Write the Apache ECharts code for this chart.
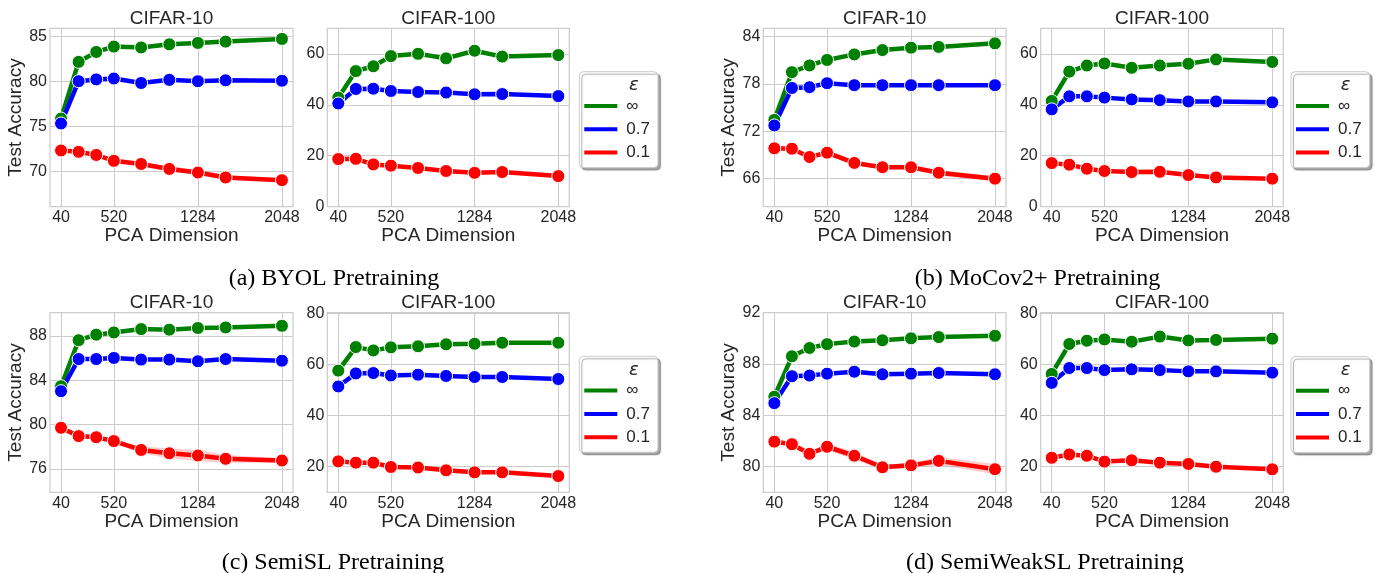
<!DOCTYPE html>
<html><head><meta charset="utf-8">
<script src="https://cdn.jsdelivr.net/npm/echarts@6/dist/echarts.min.js"></script>
<style>html,body{margin:0;padding:0;background:#fff}#c{width:1379px;height:573px}</style>
</head><body><div id="c"></div><script>
// ---------- data ----------
const xDims = [40, 200, 360, 520, 768, 1024, 1284, 1536, 2048];
const xTicks = [40, 520, 1284, 2048];
const seriesNames = ['\u221e', '0.7', '0.1'];

const ticksByolC10 = [70, 75, 80, 85];
const ticksMocoC10 = [66, 72, 78, 84];
const ticksSemiC10 = [76, 80, 84, 88];
const ticksWeakC10 = [80, 84, 88, 92];
const ticksC100Top = [0, 20, 40, 60];
const ticksC100Bottom = [20, 40, 60, 80];

// (a) BYOL
const byolC10Inf = [75.9, 82.2, 83.3, 83.9, 83.8, 84.15, 84.3, 84.45, 84.75];
const byolC10P7  = [75.35, 80.05, 80.25, 80.35, 79.85, 80.2, 80.05, 80.15, 80.1];
const byolC10P1  = [72.35, 72.2, 71.85, 71.2, 70.85, 70.3, 69.9, 69.35, 69.05];
const byolC10P1Err = [0.15, 0.15, 0.2, 0.2, 0.25, 0.3, 0.3, 0.25, 0.2];
const byolC100Inf = [42.8, 53.2, 55.1, 59.1, 60.0, 58.2, 61.2, 58.9, 59.5];
const byolC100P7  = [40.5, 46.2, 46.3, 45.4, 45.0, 44.8, 44.1, 44.2, 43.4];
const byolC100P1  = [18.7, 18.8, 16.6, 16.1, 15.2, 14.0, 13.3, 13.6, 12.0];

// (b) MoCov2+
const mocoC10Inf = [73.45, 79.5, 80.35, 81.05, 81.75, 82.3, 82.6, 82.7, 83.15];
const mocoC10P7  = [72.75, 77.5, 77.6, 78.1, 77.85, 77.85, 77.85, 77.85, 77.85];
const mocoC10P1  = [69.85, 69.8, 68.75, 69.3, 68.0, 67.45, 67.45, 66.75, 66.0];
const mocoC10P1Err = [0.1, 0.1, 0.2, 0.35, 0.3, 0.15, 0.2, 0.35, 0.35];
const mocoC100Inf = [41.5, 53.0, 55.4, 56.2, 54.5, 55.4, 56.1, 57.8, 56.8];
const mocoC100P7  = [38.2, 43.3, 43.3, 42.8, 42.1, 41.8, 41.3, 41.3, 40.95];
const mocoC100P1  = [17.1, 16.5, 14.9, 14.0, 13.6, 13.7, 12.4, 11.5, 11.0];

// (c) SemiSL
const semiC10Inf = [83.45, 87.6, 88.1, 88.3, 88.6, 88.55, 88.7, 88.75, 88.9];
const semiC10P7  = [83.0, 85.9, 85.9, 86.0, 85.85, 85.85, 85.7, 85.9, 85.75];
const semiC10P1  = [79.7, 78.95, 78.85, 78.5, 77.7, 77.4, 77.2, 76.9, 76.75];
const semiC10P1Err = [0.1, 0.1, 0.1, 0.15, 0.3, 0.45, 0.5, 0.35, 0.2];
const semiC100Inf = [57.6, 66.8, 65.5, 66.7, 67.1, 67.9, 68.1, 68.5, 68.5];
const semiC100P7  = [51.4, 56.5, 56.65, 55.7, 56.0, 55.5, 55.1, 55.1, 54.3];
const semiC100P1  = [22.1, 21.6, 21.6, 19.9, 19.7, 18.6, 17.8, 17.8, 16.35];

// (d) SemiWeakSL
const weakC10Inf = [85.45, 88.6, 89.25, 89.55, 89.75, 89.85, 90.0, 90.1, 90.2];
const weakC10P7  = [84.95, 87.05, 87.1, 87.25, 87.4, 87.2, 87.25, 87.3, 87.2];
const weakC10P1  = [81.95, 81.75, 81.0, 81.55, 80.85, 79.95, 80.1, 80.45, 79.8];
const weakC10P1Err = [0.2, 0.15, 0.15, 0.25, 0.3, 0.2, 0.2, 0.3, 0.4];
const weakC100Inf = [56.3, 68.0, 69.3, 69.8, 68.9, 70.9, 69.4, 69.6, 70.1];
const weakC100P7  = [52.8, 58.6, 58.6, 57.8, 58.1, 57.8, 57.3, 57.3, 56.8];
const weakC100P1  = [23.5, 24.8, 24.3, 22.0, 22.5, 21.6, 21.1, 20.0, 19.0];

const captions = ['(a) BYOL Pretraining', '(b) MoCov2+ Pretraining', '(c) SemiSL Pretraining', '(d) SemiWeakSL Pretraining'];

// ---------- layout ----------
const colors = ['#008000', '#0000ff', '#ff0000'];
const textColor = '#262626';
const sans = '"Liberation Sans", Arial, sans-serif';
const serif = '"Liberation Serif", "Times New Roman", serif';

const panels = [
  {box:{left:50, top:28.3, width:243, height:178.4}, vals:[byolC10Inf, byolC10P7, byolC10P1], err:byolC10P1Err, yMin:66.1, yMax:85.93, yTicks:ticksByolC10, title:'CIFAR-10', yName:true},
  {box:{left:327.3, top:28.3, width:242, height:178.4}, vals:[byolC100Inf, byolC100P7, byolC100P1], err:null, yMin:0, yMax:70, yTicks:ticksC100Top, title:'CIFAR-100', yName:false},
  {box:{left:763.3, top:28.3, width:242.7, height:178.4}, vals:[mocoC10Inf, mocoC10P7, mocoC10P1], err:mocoC10P1Err, yMin:62.45, yMax:85.06, yTicks:ticksMocoC10, title:'CIFAR-10', yName:true},
  {box:{left:1040.7, top:28.3, width:242.6, height:178.4}, vals:[mocoC100Inf, mocoC100P7, mocoC100P1], err:null, yMin:0, yMax:70, yTicks:ticksC100Top, title:'CIFAR-100', yName:false},
  {box:{left:50, top:312.7, width:243, height:179.6}, vals:[semiC10Inf, semiC10P7, semiC10P1], err:semiC10P1Err, yMin:73.88, yMax:90.08, yTicks:ticksSemiC10, title:'CIFAR-10', yName:true},
  {box:{left:327.3, top:312.7, width:242, height:179.6}, vals:[semiC100Inf, semiC100P7, semiC100P1], err:null, yMin:10, yMax:80.25, yTicks:ticksC100Bottom, title:'CIFAR-100', yName:false},
  {box:{left:763.3, top:312.7, width:242.7, height:179.6}, vals:[weakC10Inf, weakC10P7, weakC10P1], err:weakC10P1Err, yMin:78, yMax:92, yTicks:ticksWeakC10, title:'CIFAR-10', yName:true},
  {box:{left:1040.7, top:312.7, width:242.6, height:179.6}, vals:[weakC100Inf, weakC100P7, weakC100P1], err:null, yMin:10, yMax:80.25, yTicks:ticksC100Bottom, title:'CIFAR-100', yName:false}
];
const legendBoxes = [
  {left:579.3, top:71.7}, {left:1291, top:71.7}, {left:579.3, top:356.3}, {left:1291, top:356.5}
];
const captionPos = [[334, 278.5], [1037.5, 278.5], [333, 562.5], [1045, 562.5]];

const grid = [], xAxis = [], yAxis = [], series = [], graphic = [];
const splitStyle = {show:true, lineStyle:{color:'#cccccc', width:1}};
const plainNum = v => String(v);

panels.forEach((p, i) => {
  grid.push(Object.assign({show:true, borderColor:'#cccccc', borderWidth:1.25, backgroundColor:'#ffffff', containLabel:false}, p.box));
  xAxis.push({
    type:'value', gridIndex:i, min:-60.4, max:2148.4,
    name:'PCA Dimension', nameLocation:'middle', nameGap:18,
    nameTextStyle:{fontFamily:sans, fontSize:19, color:textColor},
    axisLine:{show:false}, axisTick:{show:false, customValues:xTicks},
    axisLabel:{customValues:xTicks, formatter:plainNum, fontFamily:sans, fontSize:16, color:textColor, margin:3},
    splitLine:splitStyle
  });
  yAxis.push({
    type:'value', gridIndex:i, min:p.yMin, max:p.yMax,
    name:p.yName ? 'Test Accuracy' : '', nameLocation:'middle', nameGap:25,
    nameTextStyle:{fontFamily:sans, fontSize:19, color:textColor},
    axisLine:{show:false}, axisTick:{show:false, customValues:p.yTicks},
    axisLabel:{customValues:p.yTicks, formatter:plainNum, fontFamily:sans, fontSize:16, color:textColor, margin:3},
    splitLine:splitStyle
  });
  if (p.err) {
    const mean = p.vals[2], err = p.err;
    series.push({
      type:'custom', name:'band', xAxisIndex:i, yAxisIndex:i, silent:true, z:1,
      data: xDims.map((x, k) => [x, mean[k] - err[k], mean[k] + err[k]]),
      encode:{x:0, y:[1, 2]},
      renderItem: function (params, api) {
        if (params.dataIndex !== 0) return;
        const up = [], lo = [];
        for (let k = 0; k < xDims.length; k++) {
          up.push(api.coord([xDims[k], mean[k] + err[k]]));
          lo.push(api.coord([xDims[k], mean[k] - err[k]]));
        }
        return {type:'polygon', shape:{points: up.concat(lo.reverse())}, style:{fill:'rgba(255,0,0,0.2)'}};
      }
    });
  }
  p.vals.forEach((v, s) => {
    series.push({
      type:'line', name:seriesNames[s], xAxisIndex:i, yAxisIndex:i,
      data: xDims.map((x, k) => [x, v[k]]),
      symbol:'circle', symbolSize:13, showSymbol:true,
      lineStyle:{width:4.5, color:colors[s]},
      itemStyle:{color:colors[s], borderColor:'#ffffff', borderWidth:1},
      emphasis:{disabled:true}, z:2
    });
  });
  graphic.push({
    type:'text', x:p.box.left + p.box.width / 2, y:p.box.top - 9.5, z:100,
    style:{text:p.title, font:'19px ' + sans, fill:textColor, textAlign:'center', textVerticalAlign:'middle'}
  });
});

const legend = legendBoxes.map(b => ({
  left:b.left, top:b.top, orient:'vertical', data:seriesNames,
  icon:'path://M0,0L33,0L33,4L0,4Z',
  itemWidth:33, itemHeight:4, itemGap:6.3, padding:[25.8, 8, 6.5, 5],
  itemStyle:{borderWidth:0},
  textStyle:{fontFamily:sans, fontSize:17, color:textColor, padding:[0, 0, 0, 4]},
  backgroundColor:'#ffffff', borderColor:'#cccccc', borderWidth:1, borderRadius:4,
  shadowColor:'rgba(0,0,0,0.35)', shadowBlur:1, shadowOffsetX:2.5, shadowOffsetY:2.5,
  selectedMode:false, z:10
}));
legendBoxes.forEach(b => {
  graphic.push({
    type:'text', x:b.left + 54.5, y:b.top + 14, z:1000, zlevel:0,
    style:{text:'\u03b5', font:'italic 18px "DejaVu Sans", sans-serif', fill:textColor, textAlign:'center', textVerticalAlign:'middle'}
  });
});
captions.forEach((c, i) => {
  graphic.push({
    type:'text', x:captionPos[i][0], y:captionPos[i][1], z:100,
    style:{text:c, font:'24px ' + serif, fill:'#000000', textAlign:'center', textVerticalAlign:'middle'}
  });
});

const chart = echarts.init(document.getElementById('c'), null, {renderer:'canvas'});
chart.setOption({
  animation:false, backgroundColor:'#ffffff',
  grid, xAxis, yAxis, series, legend, graphic:{elements:graphic}
});
</script></body></html>
